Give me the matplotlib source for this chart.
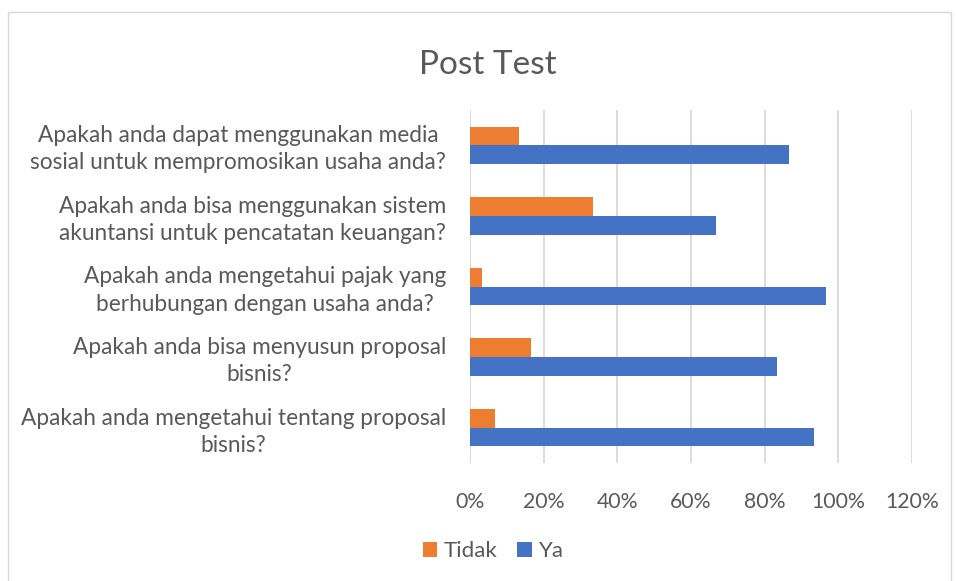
import matplotlib
matplotlib.use("Agg")
import matplotlib.pyplot as plt
import matplotlib.transforms as mtransforms
from matplotlib.patches import Rectangle
import numpy as np

categories = [
    "Apakah anda dapat menggunakan media\nsosial untuk mempromosikan usaha anda?",
    "Apakah anda bisa menggunakan sistem\nakuntansi untuk pencatatan keuangan?",
    "Apakah anda mengetahui pajak yang\nberhubungan dengan usaha anda?",
    "Apakah anda bisa menyusun proposal\nbisnis?",
    "Apakah anda mengetahui tentang proposal\nbisnis?",
]
tidak = [13.33, 33.33, 3.33, 16.67, 6.67]
ya = [86.67, 66.67, 96.67, 83.33, 93.33]
xticks = [0, 20, 40, 60, 80, 100, 120]
xticklabels = ["0%", "20%", "40%", "60%", "80%", "100%", "120%"]

TXT = "#595959"
plt.rcParams["font.family"] = ["Lato", "DejaVu Sans"]

W, H = 956, 581
fig = plt.figure(figsize=(W / 100, H / 100), dpi=100)
fig.patch.set_facecolor("white")

# chart border
fig.add_artist(Rectangle((8 / W, -0.01), (951 - 8) / W, (H - 12) / H + 0.01,
                         transform=fig.transFigure, fill=False,
                         edgecolor="#d9d9d9", linewidth=1.0))

ax = fig.add_axes([470 / W, 1 - 463 / H, (912 - 470) / W, (463 - 110) / H])
n = len(categories)
y = np.arange(n)[::-1].astype(float)
h = 0.265
ax.barh(y + h / 2, tidak, height=h, color="#ED7D31", label="Tidak", zorder=3)
ax.barh(y - h / 2, ya, height=h, color="#4472C4", label="Ya", zorder=3)

ax.set_xlim(0, 120)
ax.set_ylim(-0.5, n - 0.5)
ax.set_xticks(xticks)
ax.set_xticklabels(xticklabels)
ax.set_yticks(y)
ax.set_yticklabels([])
lab_tr = ax.get_yaxis_transform() + mtransforms.ScaledTranslation(
    -24 / 100, -4 / 100, fig.dpi_scale_trans)
for yi, lab in zip(y, categories):
    ax.text(0, yi, lab, transform=lab_tr, ha="right", va="center",
            multialignment="center", linespacing=1.36, fontsize=16.3,
            color=TXT, clip_on=False)
ax.tick_params(axis="both", length=0, colors=TXT)
ax.tick_params(axis="x", pad=21, labelsize=15.3)
for s in ax.spines.values():
    s.set_visible(False)
ax.grid(axis="x", color="#d9d9d9", linewidth=1.3, zorder=0)

fig.text(488 / W, 1 - 65 / H, "Post Test", ha="center", va="center",
         fontsize=24, color=TXT)

handles, labels = ax.get_legend_handles_labels()
leg = fig.legend(handles, labels, loc="center", bbox_to_anchor=(493 / W, 1 - 551 / H),
                 ncol=2, frameon=False, fontsize=16, handlelength=0.65,
                 handleheight=0.65, handletextpad=0.3, columnspacing=0.9)
for t in leg.get_texts():
    t.set_color(TXT)

fig.savefig("out.png", dpi=100, facecolor="white")
